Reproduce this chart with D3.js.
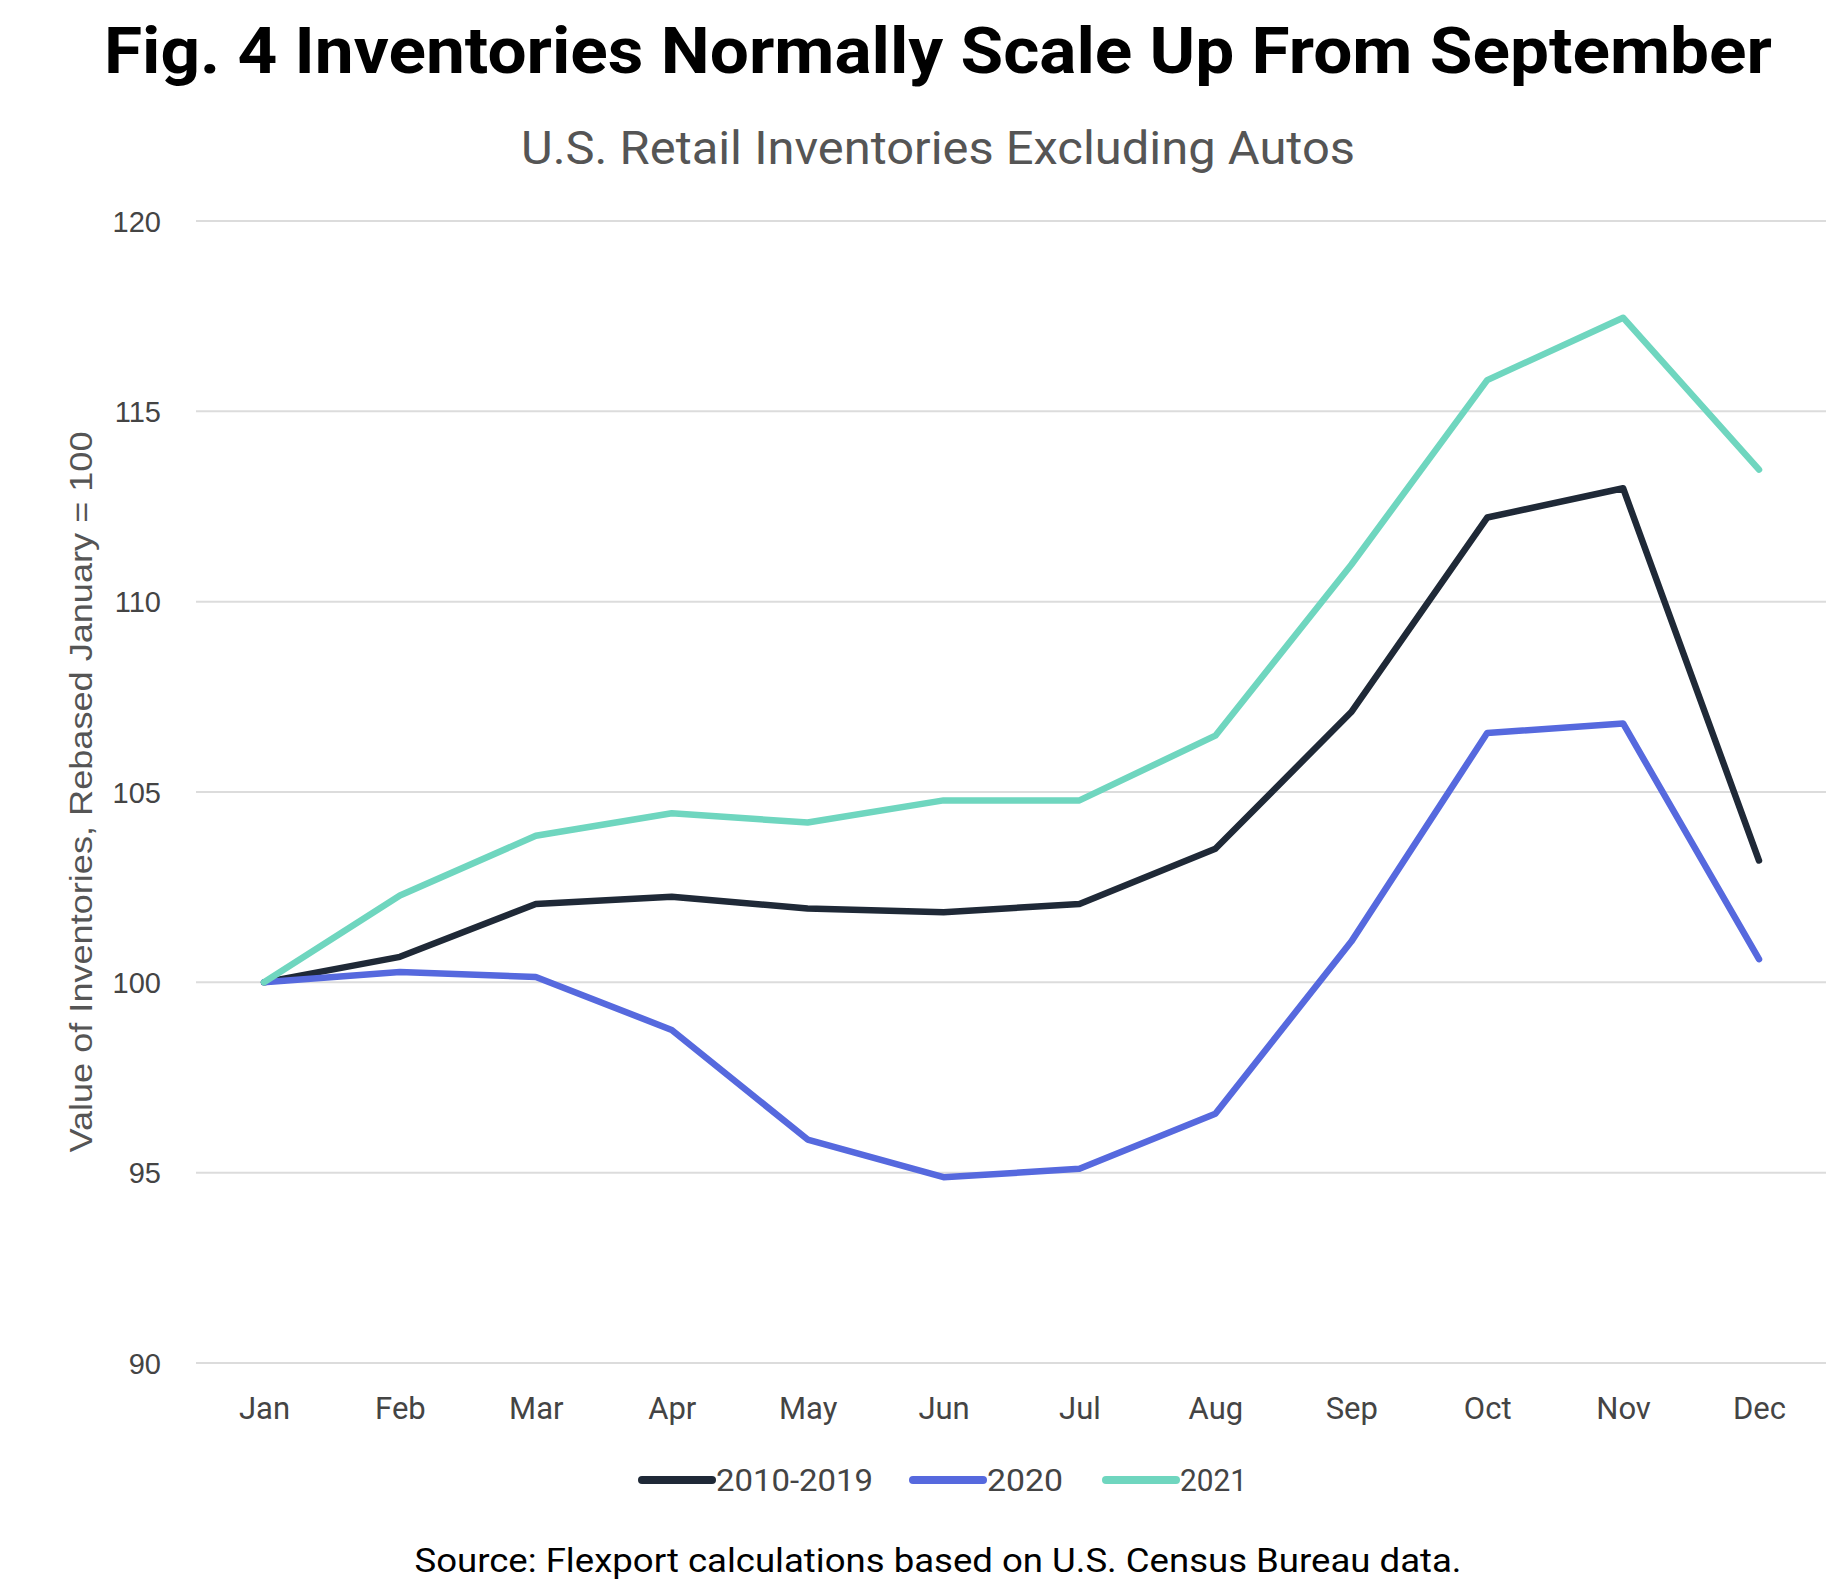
<!DOCTYPE html>
<html>
<head>
<meta charset="utf-8">
<script src="https://cdn.jsdelivr.net/npm/d3@7"></script>
<style>
  html, body { margin: 0; padding: 0; background: #fff; }
  svg { display: block; }
</style>
</head>
<body>
<svg id="chart" width="1845" height="1589"></svg>
<script>
const months = ["Jan","Feb","Mar","Apr","May","Jun","Jul","Aug","Sep","Oct","Nov","Dec"];
const seriesNames = ["2010-2019", "2020", "2021"];
const avg2010_2019 = [100, 100.67, 102.06, 102.25, 101.94, 101.84, 102.06, 103.51, 107.1, 112.21, 112.98, 103.2];
const y2020 = [100, 100.27, 100.14, 98.75, 95.87, 94.88, 95.1, 96.55, 101.07, 106.55, 106.8, 100.61];
const y2021 = [100, 102.28, 103.85, 104.44, 104.2, 104.78, 104.78, 106.48, 110.97, 115.82, 117.46, 113.47];
const yTicks = [90, 95, 100, 105, 110, 115, 120];

const colors = ["#1f2937", "#5669de", "#6fd6bf"];
const seriesValues = [avg2010_2019, y2020, y2021];

const svg = d3.select("#chart");

const x = d3.scalePoint().domain(months).range([264, 1759]);
const y = d3.scaleLinear().domain([90, 120]).range([1363, 221]);

// Title
svg.append("text")
  .attr("x", 938).attr("y", 73)
  .attr("text-anchor", "middle")
  .attr("font-family", "Roboto, 'Liberation Sans', sans-serif")
  .attr("font-weight", 700)
  .attr("font-size", 64)
  .attr("fill", "#000")
  .attr("textLength", 1668)
  .attr("lengthAdjust", "spacingAndGlyphs")
  .text("Fig. 4 Inventories Normally Scale Up From September");

// Subtitle
svg.append("text")
  .attr("x", 938).attr("y", 164)
  .attr("text-anchor", "middle")
  .attr("font-family", "Roboto, 'Liberation Sans', sans-serif")
  .attr("font-size", 46)
  .attr("fill", "#555")
  .attr("textLength", 834)
  .attr("lengthAdjust", "spacingAndGlyphs")
  .text("U.S. Retail Inventories Excluding Autos");

// Y axis tick labels
const yAxis = d3.axisLeft(y).tickValues(yTicks).tickSize(0).tickPadding(0).tickFormat(d3.format("d"));
const gy = svg.append("g").attr("transform", "translate(161,0)").call(yAxis);
gy.select(".domain").remove();
gy.selectAll("text")
  .attr("font-family", "'Liberation Sans', Arial, sans-serif")
  .attr("font-size", 29)
  .attr("fill", "#444")
  .attr("dy", "0.35em");

// Gridlines
svg.append("g").selectAll("line").data(yTicks).join("line")
  .attr("x1", 196).attr("x2", 1826)
  .attr("y1", d => y(d)).attr("y2", d => y(d))
  .attr("stroke", "#dcdcdc").attr("stroke-width", 2);

// X axis labels
const xAxis = d3.axisBottom(x).tickSize(0).tickPadding(0);
const gx = svg.append("g").attr("transform", "translate(0,1397)").call(xAxis);
gx.select(".domain").remove();
gx.selectAll("text")
  .attr("font-family", "Roboto, 'Liberation Sans', sans-serif")
  .attr("font-size", 31)
  .attr("fill", "#444")
  .attr("dy", "0.71em");

// Y axis title
svg.append("text")
  .attr("transform", "translate(92,792) rotate(-90)")
  .attr("text-anchor", "middle")
  .attr("font-family", "'Liberation Sans', Arial, sans-serif")
  .attr("font-size", 32)
  .attr("fill", "#555")
  .attr("textLength", 721)
  .attr("lengthAdjust", "spacingAndGlyphs")
  .text("Value of Inventories, Rebased January = 100");

// Lines
const line = d3.line().x((d, i) => x(months[i])).y(d => y(d));
svg.append("g").selectAll("path").data(seriesValues).join("path")
  .attr("d", d => line(d))
  .attr("fill", "none")
  .attr("stroke", (d, i) => colors[i])
  .attr("stroke-width", 6.5)
  .attr("stroke-linejoin", "round")
  .attr("stroke-linecap", "round");

// Legend
const legendItems = [
  { lx: 642, tx: 716, tw: 157 },
  { lx: 913, tx: 987, tw: 76 },
  { lx: 1106, tx: 1180, tw: 67 }
];
const lg = svg.append("g");
seriesNames.forEach((name, i) => {
  const it = legendItems[i];
  lg.append("line")
    .attr("x1", it.lx).attr("x2", it.lx + 70)
    .attr("y1", 1480).attr("y2", 1480)
    .attr("stroke", colors[i]).attr("stroke-width", 8)
    .attr("stroke-linecap", "round");
  lg.append("text")
    .attr("x", it.tx).attr("y", 1480)
    .attr("dy", "0.36em")
    .attr("font-family", "Roboto, 'Liberation Sans', sans-serif")
    .attr("font-size", 31)
    .attr("fill", "#444")
    .attr("textLength", it.tw)
    .attr("lengthAdjust", "spacingAndGlyphs")
    .text(name);
});

// Source
svg.append("text")
  .attr("x", 938).attr("y", 1572)
  .attr("text-anchor", "middle")
  .attr("font-family", "Roboto, 'Liberation Sans', sans-serif")
  .attr("font-size", 34)
  .attr("fill", "#000")
  .attr("textLength", 1047)
  .attr("lengthAdjust", "spacingAndGlyphs")
  .text("Source: Flexport calculations based on U.S. Census Bureau data.");
</script>
</body>
</html>
